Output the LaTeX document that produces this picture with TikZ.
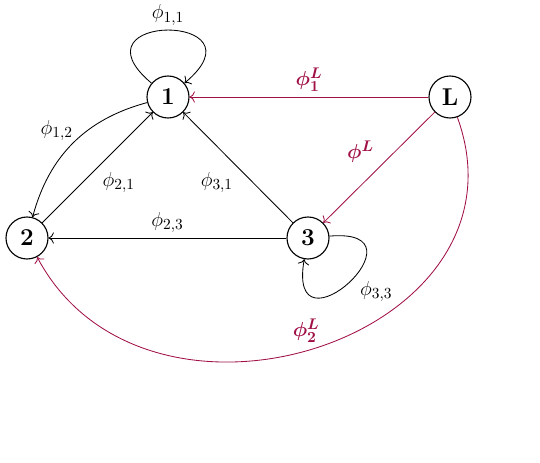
\documentclass[tikz,border=0pt]{standalone}
\usepackage{amsmath,amssymb,bm}
\usepackage{tikz}
\usetikzlibrary{arrows.meta,positioning}
\definecolor{lred}{RGB}{160,16,70}

\begin{document}
\begin{tikzpicture}[
  state/.style={draw, circle, thick, minimum size=1.05cm, inner sep=0pt, font=\LARGE\bfseries},
  arr/.style={-{To[scale=1.3]}, semithick},
  larr/.style={-{To[scale=1.3]}, semithick, lred},
  lab/.style={font=\fontsize{15}{17}\selectfont},
  llab/.style={font=\fontsize{15}{17}\selectfont, text=lred}
]
  \useasboundingbox (0,0) rectangle (13.5,11.575);
  \node[state] (n1) at (4.2,9.15) {1};
  \node[state] (n2) at (0.675,5.625) {2};
  \node[state] (n3) at (7.7,5.625) {3};
  \node[state] (nL) at (11.25,9.15) {L};
  % black edges
  \draw[arr] (n1) to[out=140,in=40,min distance=2.75cm] node[above,lab] {$\phi_{1,1}$} (n1);
  \draw[arr] (n1) to[bend right=30] node[pos=0.38,left,xshift=-7pt,lab] {$\phi_{1,2}$} (n2);
  \draw[arr] (n2) -- (n1) node[midway,below right,lab] {$\phi_{2,1}$};
  \draw[arr] (n3) -- (n1) node[midway,below left,lab] {$\phi_{3,1}$};
  \draw[arr] (n3) -- (n2) node[midway,above,lab] {$\phi_{2,3}$};
  \draw[arr] (n3) to[out=5,in=-100,min distance=2.6cm] node[pos=0.45,below right,lab] {$\phi_{3,3}$} (n3);
  % red edges from L
  \draw[larr] (nL) -- (n1) node[midway,above,llab] {$\bm{\phi^L_1}$};
  \draw[larr] (nL) -- (n3) node[midway,above left,llab] {$\bm{\phi^L}$};
  \draw[larr] (nL) to[out=-70,in=-62,looseness=1.35] node[pos=0.52,above,yshift=2pt,llab] {$\bm{\phi^L_2}$} (n2);
\end{tikzpicture}
\end{document}
